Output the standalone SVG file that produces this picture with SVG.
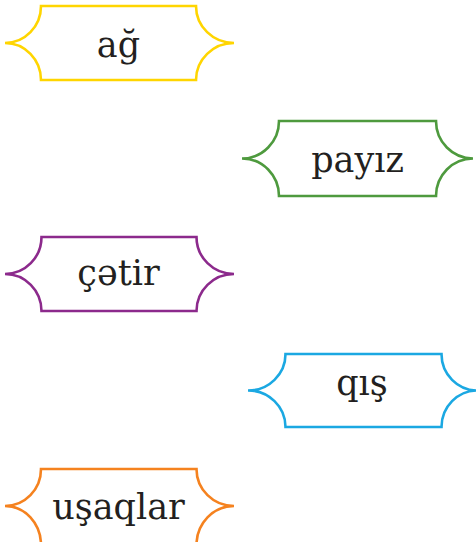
<svg xmlns="http://www.w3.org/2000/svg" width="476" height="542" viewBox="0 0 476 542">
<style>
.frame{fill:#fff;stroke-width:2.6;stroke-linejoin:miter}
.lbl{font-family:"DejaVu Serif",serif;font-size:35px;fill:#231f20;text-anchor:middle}
</style>
<rect width="476" height="542" fill="#fff"/>
<g id="connectors"/>
<g id="node-ag">
<path class="frame" stroke="#ffd500" d="M41,6 L196,6 A38,37 0 0 0 234,43 A38,37 0 0 0 196,80 L41,80 A36,37 0 0 0 5,43 A36,37 0 0 0 41,6 Z"/>
<text class="lbl" x="118.5" y="57">ağ</text>
</g>
<g id="node-payiz">
<path class="frame" stroke="#4e9a3e" d="M279,121 L436,121 A37,37.5 0 0 0 473,158.5 A37,37.5 0 0 0 436,196 L279,196 A37,37.5 0 0 0 242,158.5 A37,37.5 0 0 0 279,121 Z"/>
<text class="lbl" x="357.5" y="172">payız</text>
</g>
<g id="node-cetir">
<path class="frame" stroke="#8c2a8c" d="M41.5,237 L196.5,237 A37.5,37 0 0 0 234,274 A37.5,37 0 0 0 196.5,311 L41.5,311 A36.5,37 0 0 0 5,274 A36.5,37 0 0 0 41.5,237 Z"/>
<text class="lbl" x="118.5" y="285">çətir</text>
</g>
<g id="node-qis">
<path class="frame" stroke="#1ba8e2" d="M285.5,354 L441.5,354 A36,36.5 0 0 0 477.5,390.5 A36,36.5 0 0 0 441.5,427 L285.5,427 A37.5,36.5 0 0 0 248,390.5 A37.5,36.5 0 0 0 285.5,354 Z"/>
<text class="lbl" x="362" y="395">qış</text>
</g>
<g id="node-usaqlar">
<path class="frame" stroke="#f5821f" d="M41,469 L196.5,469 A37.5,37 0 0 0 234,506 A37.5,39 0 0 0 196.5,545 L41,545 A36,39 0 0 0 5,506 A36,37 0 0 0 41,469 Z"/>
<text class="lbl" x="118.5" y="519">uşaqlar</text>
</g>
</svg>
